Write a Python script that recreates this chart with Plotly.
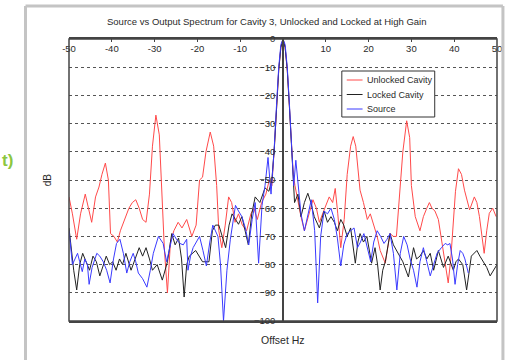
import plotly.graph_objects as go

# ---------------- data ----------------
unlocked_x = [-50, -49.2, -48.2, -47.3, -46.2, -45.5, -44.7, -43.8, -43, -42.3, -41.5, -40.8, -40.3, -39.5,
              -38.7, -38, -37, -36, -35.2, -34.4, -33.6, -32.8, -32, -31.2, -30.5, -29.7, -28.9, -28.3,
              -27.7, -27, -26.3, -25.5, -24.5, -23.6, -22.5, -21.3, -20.3, -19.5, -18.8, -18, -17, -16.2,
              -15.5, -15, -14.3, -13.5, -12.7, -12, -11.2, -10.4, -9.5, -8.5, -7.5, -6.8, -6, -5, -4,
              -3.2, -2.6, -2.0, -1.5, -1.0, -0.5, 0, 0.5, 1, 1.5, 2, 2.4, 2.8, 3.5, 4.2, 5, 6, 7, 7.8,
              8.5, 9.5, 10.8, 11.6, 12.2, 12.8, 13.5, 14.3, 15, 15.8, 16.4, 17, 17.6, 18, 18.8, 19.7,
              20.4, 21.2, 22, 22.7, 23.9, 25, 25.8, 26.5, 27.3, 28, 28.9, 29.6, 30, 30.9, 32, 32.8, 33.6,
              34.2, 34.8, 35.5, 36.3, 37.4, 38.6, 39.2, 39.7, 40.3, 41, 41.7, 42.4, 43.6, 44.7, 45.3,
              45.9, 46.4, 47, 47.6, 48.2, 49, 49.8]
unlocked_db = [-56, -62, -71, -62, -55, -60, -65, -56, -52.5, -48, -44, -50, -69, -70,
               -72, -68, -64, -60, -58, -57, -60, -64, -65, -55, -38, -27, -34, -55,
               -75, -90, -72, -68, -65, -67, -64, -70, -66, -50, -49, -40, -33, -38,
               -52, -68, -74, -66, -56, -58, -65, -62, -66, -68, -62, -60, -64, -58, -55,
               -50, -52, -38, -24, -11, -3, 0, -3, -11, -24, -38, -48, -52, -58, -63, -68, -62, -57, -60,
               -65, -61, -56, -58, -53, -62, -74, -64, -48, -38, -34.6, -38, -48, -53.6, -58, -64,
               -62, -66.5, -70, -75, -79.5, -69, -70, -70, -55, -40, -29, -35, -52, -63, -68, -63, -60,
               -58, -60, -61, -64, -74, -86.5, -78, -68, -54, -46, -48, -53.6, -60.6, -56, -58,
               -63, -70, -76, -68, -61.8, -60, -63]

locked_x = [-50, -49.5, -48.9, -48.2, -47.5, -46.8, -46, -45.2, -44.4, -43.6, -42.8, -42, -41.3, -40.5,
            -39.8, -39, -38.2, -37.5, -36.7, -35.5, -34.5, -33.6, -32.8, -32, -31.2, -30.5, -29.4,
            -28.2, -27, -26, -25.2, -24.4, -23.7, -23.1, -22.5, -21.9, -20.4, -19.6, -18.8, -17.3,
            -16.5, -15.8, -15, -14.2, -13.4, -12.6, -11.9, -11.1, -10.4, -9.6, -8.8, -8.1, -7.3, -6.5,
            -5.4, -4.2, -3.3, -2.6, -2.0, -1.5, -1, -0.5, 0, 0.5, 1, 1.5, 2.0, 2.4, 2.7, 3.5, 4.2, 5,
            5.8, 6.5, 7.3, 8.5, 9.6, 10.4, 11.2, 12, 12.7, 13.5, 14.2, 15, 15.8, 16.9, 17.5, 18, 18.8,
            19.6, 20.7, 21.5, 22.1, 22.7, 23.3, 23.9, 25, 25.8, 26.6, 27.3, 28, 29.3, 30.5, 31.2, 32,
            32.8, 33.6, 34.4, 35.2, 36.3, 37.5, 38.6, 39.8, 40.4, 41, 42, 42.9, 44, 44.6, 45.3, 46,
            46.8, 47.6, 48.4, 49.2, 50]
locked_db = [-67, -75, -82, -89, -80, -76, -79, -82, -77, -79, -84, -80, -77, -80,
             -79, -82, -78, -80, -76, -82, -78, -74, -77, -74, -78, -82, -80,
             -85.5, -79, -69, -73, -70.6, -78, -91.5, -80, -77, -75, -77, -79, -79,
             -68, -66, -66, -70, -74, -66, -62, -64, -65.7, -63, -69, -73, -62, -56,
             -58, -52.8, -54, -50, -38, -23, -11, -3, 0, -3, -11, -24, -40, -50, -58, -55, -63, -58,
             -54.7, -58, -63, -67, -61, -65, -63, -65, -68, -64, -66, -70, -67, -79.5, -72, -69, -72,
             -70, -79.5, -74, -80, -89, -82, -79, -69, -73, -75, -77, -79, -84.4, -74, -78, -77,
             -75, -78, -76, -82, -75, -81, -77, -82, -79, -78, -80, -89, -77, -76, -75, -77,
             -79, -81, -84, -82, -80]

source_x = [-50, -49.6, -49.2, -48.6, -48, -47.5, -46.9, -46.3, -45.7, -45.3, -44.6, -43.5, -42.8, -42,
            -41.2, -40.4, -39.6, -38.9, -38.1, -37.3, -36.5, -35.8, -35, -34.4, -33.8, -32.8, -31.8,
            -31, -30.3, -29.1, -28, -27.2, -26.5, -25.7, -24.9, -24.1, -23.3, -22.5, -22.2, -21.6, -21,
            -20.2, -19.5, -18.7, -17.9, -17.1, -16.4, -15.2, -14.6, -13.9, -13.1, -12.3, -11.7, -11.1,
            -10.4, -9.6, -8.8, -8, -7.2, -6.5, -5.7, -4.9, -4.2, -3.5, -2.8, -2.1, -1.5, -1, -0.5, 0,
            0.5, 1, 1.5, 2.1, 2.5, 3, 3.5, 4.2, 5, 5.8, 6.6, 7.4, 8.1, 8.8, 9.6, 10.4, 11.2, 12, 12.7,
            13.5, 14.2, 15, 15.8, 16.6, 17.4, 18.1, 18.9, 19.7, 20.5, 21.2, 22, 22.8, 23.6, 24.3, 25,
            25.8, 26.6, 27.4, 28.2, 29, 29.7, 30.5, 31.3, 32, 32.8, 33.6, 34.4, 35.2, 36, 37, 37.9,
            38.5, 39, 39.6, 40.2, 40.8, 41.4, 42, 42.5, 43.3]
source_db = [-68, -74, -80, -78, -76, -79, -82.5, -78, -80, -87, -81, -76, -77, -79,
             -82, -86.5, -78, -72.5, -71, -76, -83, -79, -76, -79, -83, -85, -88,
             -82, -76, -70, -72.5, -79, -74, -69, -71, -72.5, -73, -71, -82, -77, -74,
             -72, -70, -75, -80.5, -72, -66, -70, -80, -100, -82, -71, -64, -59,
             -61, -63, -67, -73, -64, -58, -79.5, -59, -52, -42, -55, -40, -23, -10, -2, 0,
             -2, -10, -23, -40, -52, -43, -52, -62, -68, -62, -57, -68, -93.6, -70, -61, -62, -60, -64, -70.6,
             -80.5, -73, -69, -68, -67, -74, -72, -69, -74, -79, -72, -68, -70, -72.5, -71, -69,
             -76, -89, -76, -70, -73, -78, -82, -88, -79, -74, -79, -84, -80, -76, -74, -72.5,
             -73, -72.5, -78, -87, -80, -75, -76, -78, -83]

series_names = ["Unlocked Cavity", "Locked Cavity", "Source"]
series_colors = ["#ff4a4a", "#222222", "#3a3aff"]
x_ticks = [-50, -40, -30, -20, -10, 0, 10, 20, 30, 40, 50]
x_tick_text = ["-50", "-40", "-30", "-20", "-10", "", "10", "20", "30", "40", "50"]
y_ticks = [0, -10, -20, -30, -40, -50, -60, -70, -80, -90, -100]

title_text = "Source vs Output Spectrum for Cavity 3, Unlocked and Locked at High Gain"

# ---------------- figure ----------------
W, H = 511, 360
L, R, T, B = 69, 9, 39, 39
pw, ph = W - L - R, H - T - B

def px2x(px):
    return (px - L) / pw

def px2y(py):
    return (H - B - py) / ph

FONT = "Liberation Sans, Arial"
TXT = "#2a2a2a"

fig = go.Figure()
series = [(unlocked_x, unlocked_db), (locked_x, locked_db), (source_x, source_db)]
for (xs, ys), name, col in zip(series, series_names, series_colors):
    fig.add_trace(go.Scatter(x=xs, y=ys, mode="lines", name=name,
                             line=dict(color=col, width=1), showlegend=False))

tick_font = dict(family=FONT, size=9.5, color=TXT)

fig.update_layout(
    width=W, height=H,
    margin=dict(l=L, r=R, t=T, b=B),
    paper_bgcolor="white", plot_bgcolor="white",
    xaxis=dict(range=[-50, 50], side="top", tickvals=x_ticks, ticktext=x_tick_text,
               ticks="inside", ticklen=3, tickcolor="#444444",
               ticklabelposition="inside", ticklabeloverflow="allow", ticklabelstandoff=3,
               showline=True, mirror=True, linecolor="#444444", linewidth=1.5,
               showgrid=False, zeroline=False, tickfont=tick_font),
    yaxis=dict(range=[-100, 0], anchor="free", position=0.5, tickvals=y_ticks,
               ticks="", showline=True, linecolor="#444444", linewidth=1.5,
               showgrid=True, gridcolor="#555555", griddash="dot", gridwidth=1,
               zeroline=False, tickfont=tick_font, ticklabelstandoff=5),
)

# axes box left/right edges
fig.add_shape(type="rect", xref="paper", yref="paper", x0=0, x1=1, y0=0, y1=1,
              line=dict(color="#444444", width=1.5), layer="above")
# outer frame of the figure panel
for (x0, y0, x1, y1) in [(25, 6, 25, 370), (25, 6, 508, 6), (508, 6, 508, 370)]:
    fig.add_shape(type="line", xref="paper", yref="paper", x0=px2x(x0), x1=px2x(x1),
                  y0=px2y(y0), y1=px2y(y1), line=dict(color="#c4c4c4", width=3))

# legend box (drawn compactly, like the original)
fig.add_shape(type="rect", xref="paper", yref="paper", x0=px2x(345), x1=px2x(439),
              y0=px2y(117), y1=px2y(71), line=dict(color="#333333", width=1),
              fillcolor="white", layer="above")
for i, (name, col) in enumerate(zip(series_names, series_colors)):
    yy = 80 + 14.5 * i
    fig.add_shape(type="line", xref="paper", yref="paper", x0=px2x(350), x1=px2x(366),
                  y0=px2y(yy), y1=px2y(yy), line=dict(color=col, width=1), layer="above")
    fig.add_annotation(text=name, xref="paper", yref="paper", x=px2x(368), y=px2y(yy),
                       xanchor="left", yanchor="middle", showarrow=False,
                       font=dict(family=FONT, size=9, color=TXT))

fig.add_annotation(text=title_text, xref="paper", yref="paper", x=px2x(269), y=px2y(22),
                   xanchor="center", yanchor="middle", showarrow=False,
                   font=dict(family=FONT, size=9.5, color=TXT))
fig.add_annotation(text="Offset Hz", xref="paper", yref="paper", x=px2x(285), y=px2y(340),
                   xanchor="center", yanchor="middle", showarrow=False,
                   font=dict(family=FONT, size=10.5, color=TXT))
fig.add_annotation(text="dB", xref="paper", yref="paper", x=px2x(47), y=px2y(180), textangle=-90,
                   xanchor="center", yanchor="middle", showarrow=False,
                   font=dict(family=FONT, size=10, color=TXT))
fig.add_annotation(text="<b>t)</b>", xref="paper", yref="paper", x=px2x(14), y=px2y(160),
                   xanchor="right", yanchor="middle", showarrow=False,
                   font=dict(family=FONT, size=17, color="#8cc63f"))

fig.write_html("out.html")
